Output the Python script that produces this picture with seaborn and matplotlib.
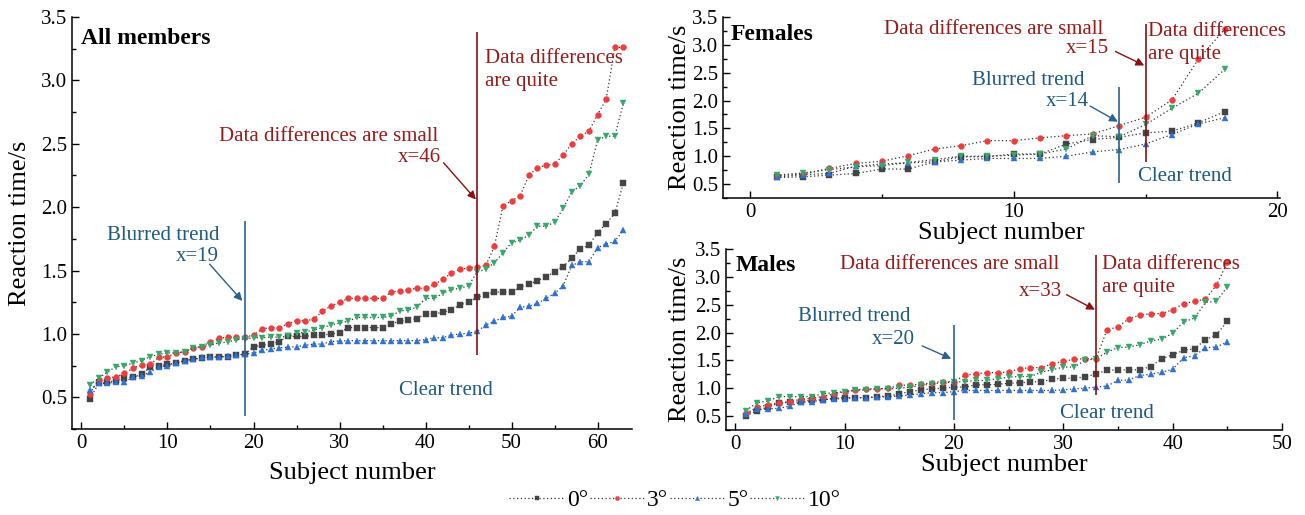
import numpy as np
import pandas as pd
import matplotlib
matplotlib.use("Agg")
import matplotlib.pyplot as plt
from matplotlib.ticker import MultipleLocator
import seaborn as sns

# ---------------------------------------------------------------------------
# DATA
# ---------------------------------------------------------------------------
ANGLES = ["0°", "3°", "5°", "10°"]

all_0 = [0.49, 0.61, 0.62, 0.63, 0.65, 0.66, 0.68, 0.74, 0.75, 0.76,
         0.77, 0.79, 0.80, 0.81, 0.82, 0.82, 0.82, 0.83, 0.84, 0.90,
         0.91, 0.92, 0.94, 0.98, 0.98, 0.98, 0.99, 0.99, 1.00, 1.01,
         1.05, 1.05, 1.05, 1.05, 1.05, 1.08, 1.10, 1.11, 1.12, 1.16,
         1.16, 1.17, 1.19, 1.23, 1.25, 1.29, 1.31, 1.33, 1.33, 1.33,
         1.37, 1.39, 1.42, 1.45, 1.49, 1.53, 1.60, 1.67, 1.70, 1.80,
         1.87, 1.95, 2.19]
all_3 = [0.53, 0.64, 0.655, 0.66, 0.69, 0.73, 0.755, 0.76, 0.815, 0.82,
         0.85, 0.86, 0.89, 0.90, 0.94, 0.965, 0.975, 0.975, 0.975, 0.99,
         1.04, 1.05, 1.05, 1.08, 1.105, 1.105, 1.115, 1.18, 1.22, 1.25,
         1.28, 1.28, 1.28, 1.28, 1.28, 1.33, 1.34, 1.35, 1.36, 1.36,
         1.39, 1.43, 1.48, 1.51, 1.52, 1.53, 1.54, 1.69, 2.01, 2.05,
         2.09, 2.25, 2.31, 2.33, 2.34, 2.41, 2.50, 2.56, 2.60, 2.73,
         2.85, 3.26, 3.26]
all_5 = [0.56, 0.61, 0.61, 0.62, 0.62, 0.66, 0.67, 0.70, 0.74, 0.75,
         0.77, 0.79, 0.80, 0.815, 0.815, 0.82, 0.825, 0.835, 0.84, 0.85,
         0.87, 0.88, 0.89, 0.895, 0.90, 0.91, 0.92, 0.92, 0.94, 0.945,
         0.947, 0.947, 0.947, 0.947, 0.947, 0.947, 0.947, 0.947, 0.947, 0.955,
         0.97, 0.97, 0.99, 1.00, 1.005, 1.02, 1.07, 1.10, 1.13, 1.14,
         1.21, 1.22, 1.24, 1.28, 1.32, 1.38, 1.54, 1.57, 1.57, 1.68,
         1.71, 1.73, 1.82]
all_10 = [0.60, 0.65, 0.70, 0.74, 0.75, 0.77, 0.79, 0.82, 0.84, 0.85,
          0.85, 0.86, 0.89, 0.90, 0.91, 0.93, 0.935, 0.955, 0.96, 0.97,
          0.97, 0.975, 0.975, 0.98, 1.005, 1.015, 1.03, 1.05, 1.07, 1.085,
          1.10, 1.13, 1.13, 1.13, 1.13, 1.14, 1.18, 1.19, 1.21, 1.28,
          1.28, 1.32, 1.35, 1.36, 1.38, 1.49, 1.51, 1.56, 1.64, 1.72,
          1.74, 1.78, 1.85, 1.85, 1.88, 1.99, 2.12, 2.17, 2.26, 2.53,
          2.56, 2.56, 2.82]

fem_0 = [0.62, 0.63, 0.66, 0.69, 0.77, 0.77, 0.90, 0.99, 0.99, 1.04,
         1.04, 1.22, 1.30, 1.34, 1.42, 1.45, 1.60, 1.80]
fem_3 = [0.65, 0.68, 0.78, 0.87, 0.91, 1.01, 1.13, 1.19, 1.28, 1.28,
         1.33, 1.37, 1.40, 1.55, 1.70, 2.01, 2.74, 3.28]
fem_5 = [0.62, 0.67, 0.69, 0.82, 0.86, 0.88, 0.90, 0.93, 0.96, 0.96,
         0.96, 1.00, 1.08, 1.12, 1.22, 1.39, 1.58, 1.69]
fem_10 = [0.66, 0.70, 0.76, 0.81, 0.83, 0.89, 0.94, 1.00, 1.00, 1.02,
          1.04, 1.13, 1.37, 1.35, 1.57, 1.86, 2.13, 2.56]

male_0 = [0.51, 0.59, 0.67, 0.73, 0.75, 0.75, 0.79, 0.79, 0.82, 0.83,
          0.83, 0.83, 0.85, 0.86, 0.90, 0.94, 0.97, 0.99, 1.00, 1.02,
          1.02, 1.06, 1.06, 1.07, 1.09, 1.10, 1.11, 1.12, 1.16, 1.18,
          1.18, 1.20, 1.26, 1.32, 1.33, 1.33, 1.33, 1.39, 1.53, 1.60,
          1.68, 1.71, 1.87, 1.96, 2.20]
male_3 = [0.55, 0.66, 0.70, 0.74, 0.76, 0.80, 0.82, 0.85, 0.90, 0.94,
          0.97, 0.99, 0.99, 1.00, 1.05, 1.06, 1.07, 1.10, 1.12, 1.12,
          1.23, 1.26, 1.28, 1.28, 1.29, 1.35, 1.37, 1.37, 1.44, 1.48,
          1.52, 1.53, 1.53, 2.05, 2.10, 2.25, 2.31, 2.34, 2.34, 2.41,
          2.52, 2.56, 2.60, 2.85, 3.26]
male_5 = [0.54, 0.62, 0.63, 0.64, 0.68, 0.75, 0.76, 0.79, 0.81, 0.81,
          0.83, 0.83, 0.84, 0.85, 0.86, 0.88, 0.90, 0.92, 0.92, 0.94,
          0.96, 0.96, 0.96, 0.96, 0.96, 0.96, 0.96, 0.96, 0.96, 0.97,
          0.99, 1.00, 1.02, 1.04, 1.14, 1.15, 1.23, 1.25, 1.29, 1.34,
          1.55, 1.58, 1.73, 1.74, 1.83]
male_10 = [0.60, 0.74, 0.77, 0.85, 0.85, 0.85, 0.85, 0.90, 0.92, 0.94,
           0.96, 0.97, 0.99, 0.99, 1.00, 1.02, 1.05, 1.08, 1.10, 1.11,
           1.12, 1.14, 1.14, 1.17, 1.20, 1.21, 1.21, 1.29, 1.33, 1.38,
           1.38, 1.50, 1.53, 1.65, 1.73, 1.74, 1.78, 1.85, 1.88, 1.99,
           2.19, 2.26, 2.54, 2.56, 2.82]

# ---------------------------------------------------------------------------
# STYLE
# ---------------------------------------------------------------------------
sns.set_theme(style="ticks")
plt.rcParams["font.family"] = ["Liberation Serif", "DejaVu Serif"]
for key in ["text.color", "axes.labelcolor", "xtick.color", "ytick.color",
            "axes.edgecolor"]:
    plt.rcParams[key] = "black"

MARKERS = {"0°": "s", "3°": "o", "5°": "^", "10°": "v"}
COLORS = {"0°": "#454545", "3°": "#f03c3c", "5°": "#2d70d8", "10°": "#35a86a"}
RED_TXT = "#9a1a1a"
BLUE_TXT = "#1d5a82"
RED_LINE = "#8b1010"
BLUE_LINE = "#2a628c"

FS_TICK = 15
FS_LABEL = 19
FS_NOTE = 15


def build_long(series):
    frames = []
    for name, vals in zip(ANGLES, series):
        frames.append(pd.DataFrame({"subject": np.arange(1, len(vals) + 1),
                                    "time": vals, "angle": name}))
    return pd.concat(frames, ignore_index=True)


def draw_series(ax, df):
    for name in ANGLES:
        sub = df[df["angle"] == name]
        sns.lineplot(data=sub, x="subject", y="time", ax=ax,
                     color="#333333", linestyle=(0, (1, 2)), linewidth=0.9,
                     marker=MARKERS[name], markersize=4.2,
                     markerfacecolor=COLORS[name], markeredgecolor=COLORS[name],
                     markeredgewidth=0.3, legend=False)


def style_axes(ax, xlim, xmaj):
    ax.set_xlim(*xlim)
    ax.set_ylim(0.25, 3.5)
    ax.xaxis.set_major_locator(MultipleLocator(xmaj))
    ax.xaxis.set_minor_locator(MultipleLocator(xmaj / 2))
    ax.yaxis.set_minor_locator(MultipleLocator(0.25))
    ax.set_yticks([0.5, 1.0, 1.5, 2.0, 2.5, 3.0, 3.5])
    ax.tick_params(which="major", direction="in", length=5, width=1,
                   labelsize=FS_TICK, colors="black")
    ax.tick_params(which="minor", direction="in", length=3, width=1,
                   colors="black")
    for s in ["top", "right"]:
        ax.spines[s].set_visible(False)
    for s in ["left", "bottom"]:
        ax.spines[s].set_linewidth(1.1)
        ax.spines[s].set_color("black")
    ax.set_xlabel("Subject number", fontsize=FS_LABEL)
    ax.set_ylabel("Reaction time/s", fontsize=FS_LABEL)


def marks(ax, xb, yb, xr, yr):
    ax.vlines(xb, yb[0], yb[1], color=BLUE_LINE, lw=1.2)
    ax.vlines(xr, yr[0], yr[1], color=RED_LINE, lw=1.2)


def arrow(ax, tail, head, color):
    ax.annotate("", xy=head, xytext=tail,
                arrowprops=dict(arrowstyle="-|>", color=color, lw=1.0,
                                mutation_scale=12, shrinkA=0, shrinkB=0))


fig = plt.figure(figsize=(13.05, 5.15), dpi=100)
ax_all = fig.add_axes([72 / 1305, 1 - 429 / 515, 560 / 1305, 412 / 515])
ax_f = fig.add_axes([723 / 1305, 1 - 198 / 515, 557 / 1305, 181 / 515])
ax_m = fig.add_axes([726 / 1305, 1 - 430 / 515, 556 / 1305, 181 / 515])

# ---------------------------------------------------------------------------
# ALL MEMBERS
# ---------------------------------------------------------------------------
draw_series(ax_all, build_long([all_0, all_3, all_5, all_10]))
style_axes(ax_all, (-1.1, 64), 10)
ax_all.xaxis.set_label_coords(0.5, -0.08)
ax_all.yaxis.set_label_coords(-0.074, 0.5)
marks(ax_all, 19, (0.35, 1.89), 46, (0.83, 3.38))
ax_all.text(0.0, 3.33, "All members", fontsize=17, fontweight="bold",
            ha="left", va="center")
ax_all.text(41.5, 2.56, "Data differences are small", color=RED_TXT,
            fontsize=FS_NOTE, ha="right", va="center")
ax_all.text(41.8, 2.39, "x=46", color=RED_TXT, fontsize=FS_NOTE,
            ha="right", va="center")
arrow(ax_all, (42.1, 2.35), (45.85, 2.06), RED_LINE)
ax_all.text(46.9, 3.08, "Data differences\nare quite", color=RED_TXT,
            fontsize=FS_NOTE, ha="left", va="center", linespacing=1.3)
ax_all.text(16.0, 1.78, "Blurred trend", color=BLUE_TXT, fontsize=FS_NOTE,
            ha="right", va="center")
ax_all.text(16.0, 1.61, "x=19", color=BLUE_TXT, fontsize=FS_NOTE,
            ha="right", va="center")
arrow(ax_all, (14.9, 1.55), (18.7, 1.26), BLUE_LINE)
ax_all.text(36.9, 0.55, "Clear trend", color=BLUE_TXT, fontsize=FS_NOTE,
            ha="left", va="center")

# ---------------------------------------------------------------------------
# FEMALES
# ---------------------------------------------------------------------------
draw_series(ax_f, build_long([fem_0, fem_3, fem_5, fem_10]))
style_axes(ax_f, (-1.03, 20.1), 10)
ax_f.xaxis.set_label_coords(0.5, -0.13)
ax_f.yaxis.set_label_coords(-0.058, 0.5)
marks(ax_f, 14, (0.52, 2.24), 15, (0.90, 3.37))
ax_f.text(-0.76, 3.18, "Females", fontsize=17, fontweight="bold",
          ha="left", va="center")
ax_f.text(13.4, 3.27, "Data differences are small", color=RED_TXT,
          fontsize=FS_NOTE, ha="right", va="center")
ax_f.text(13.6, 2.94, "x=15", color=RED_TXT, fontsize=FS_NOTE,
          ha="right", va="center")
arrow(ax_f, (13.86, 2.88), (14.95, 2.63), RED_LINE)
ax_f.text(15.1, 3.04, "Data differences\nare quite", color=RED_TXT,
          fontsize=FS_NOTE, ha="left", va="center", linespacing=1.3)
ax_f.text(12.7, 2.36, "Blurred trend", color=BLUE_TXT, fontsize=FS_NOTE,
          ha="right", va="center")
ax_f.text(12.85, 1.98, "x=14", color=BLUE_TXT, fontsize=FS_NOTE,
          ha="right", va="center")
arrow(ax_f, (12.9, 1.90), (13.95, 1.62), BLUE_LINE)
ax_f.text(14.7, 0.63, "Clear trend", color=BLUE_TXT, fontsize=FS_NOTE,
          ha="left", va="center")

# ---------------------------------------------------------------------------
# MALES
# ---------------------------------------------------------------------------
draw_series(ax_m, build_long([male_0, male_3, male_5, male_10]))
style_axes(ax_m, (-0.84, 50), 10)
ax_m.xaxis.set_label_coords(0.5, -0.13)
ax_m.yaxis.set_label_coords(-0.063, 0.5)
marks(ax_m, 20, (0.43, 2.14), 33, (0.88, 3.40))
ax_m.text(0.07, 3.20, "Males", fontsize=17, fontweight="bold",
          ha="left", va="center")
ax_m.text(29.6, 3.22, "Data differences are small", color=RED_TXT,
          fontsize=FS_NOTE, ha="right", va="center")
ax_m.text(29.9, 2.74, "x=33", color=RED_TXT, fontsize=FS_NOTE,
          ha="right", va="center")
arrow(ax_m, (30.3, 2.68), (32.9, 2.41), RED_LINE)
ax_m.text(33.5, 3.02, "Data differences\nare quite", color=RED_TXT,
          fontsize=FS_NOTE, ha="left", va="center", linespacing=1.3)
ax_m.text(16.05, 2.29, "Blurred trend", color=BLUE_TXT, fontsize=FS_NOTE,
          ha="right", va="center")
ax_m.text(16.45, 1.87, "x=20", color=BLUE_TXT, fontsize=FS_NOTE,
          ha="right", va="center")
arrow(ax_m, (17.1, 1.76), (19.75, 1.53), BLUE_LINE)
ax_m.text(29.7, 0.55, "Clear trend", color=BLUE_TXT, fontsize=FS_NOTE,
          ha="left", va="center")

# ---------------------------------------------------------------------------
# LEGEND
# ---------------------------------------------------------------------------
handles = ax_all.get_lines()[:4]
fig.legend(handles, ANGLES, loc="center", ncol=4, frameon=False,
           bbox_to_anchor=(675 / 1305, 1 - 500 / 515), fontsize=17,
           handlelength=2.3, handletextpad=0.15, columnspacing=0.05,
           markerscale=0.7)

fig.savefig("out.png", dpi=100)
